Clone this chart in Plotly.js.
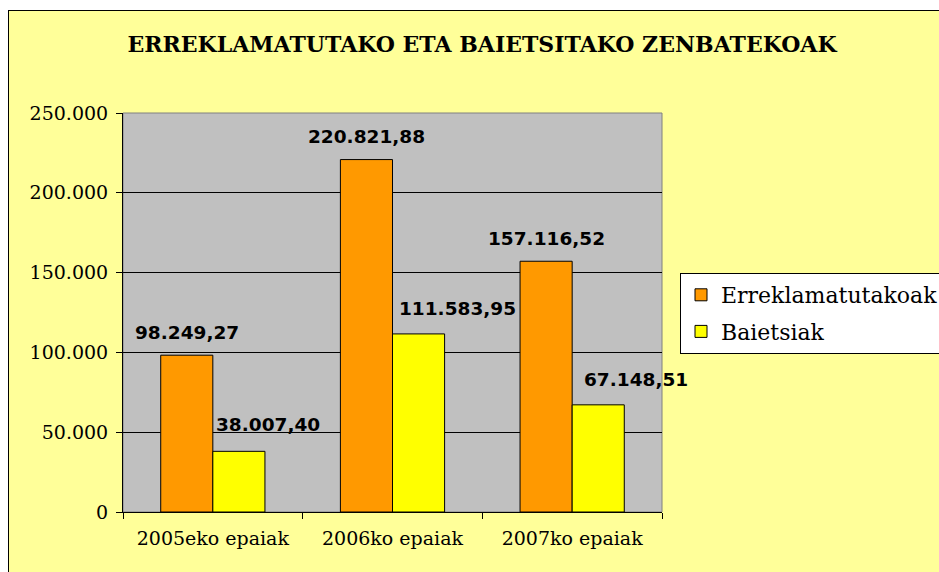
<!DOCTYPE html>
<html>
<head>
<meta charset="utf-8">
<script src="https://cdn.plot.ly/plotly-3.0.1.min.js"></script>
<style>
  html, body { margin: 0; padding: 0; background: #ffffff; overflow: hidden; width: 939px; height: 572px; }
  #chart { position: absolute; left: 8px; top: 10px; width: 940px; height: 570px; border-left: 1px solid #000; border-top: 1px solid #000; background: #FFFF99; }
</style>
</head>
<body>
<div id="chart"></div>
<script>
// ---- data ----
var categories = ['2005eko epaiak', '2006ko epaiak', '2007ko epaiak'];
var erreklamatutakoak = [98249.27, 220821.88, 157116.52];
var baietsiak = [38007.40, 111583.95, 67148.51];
var seriesNames = ['Erreklamatutakoak', 'Baietsiak'];
var yTickValues = [0, 50000, 100000, 150000, 200000, 250000];
var chartTitle = 'ERREKLAMATUTAKO ETA BAIETSITAKO ZENBATEKOAK';

// ---- label placement (style, pixels) ----
var shiftOrange = [-26, -26, -26];
var shiftYellow = [55, 65, 64];
var liftOrange = [23, 23.5, 23];
var liftYellow = [27, 25, 25.5];

function fmt(v) {
  var parts = v.toFixed(2).split('.');
  var intPart = parts[0].replace(/\B(?=(\d{3})+(?!\d))/g, '.');
  return intPart + ',' + parts[1];
}

var serif = 'DejaVu Serif, serif';
var labelFont = {family: 'DejaVu Sans, sans-serif', size: 18.5, weight: 'bold', color: '#000'};
var traces = [
  {type: 'bar', name: seriesNames[0], x: categories, y: erreklamatutakoak, legendgroup: 'a',
   marker: {color: '#FF9900', line: {color: '#000000', width: 1}}, hoverinfo: 'none'},
  {type: 'bar', name: seriesNames[1], x: categories, y: baietsiak, legendgroup: 'b',
   marker: {color: '#FFFF00', line: {color: '#000000', width: 1}}, hoverinfo: 'none'}
];

var annotations = [];
categories.forEach(function (c, i) {
  annotations.push({x: c, y: erreklamatutakoak[i], xref: 'x', yref: 'y', text: fmt(erreklamatutakoak[i]),
    showarrow: false, xanchor: 'center', yanchor: 'middle', xshift: shiftOrange[i], yshift: liftOrange[i],
    font: labelFont});
  annotations.push({x: c, y: baietsiak[i], xref: 'x', yref: 'y', text: fmt(baietsiak[i]),
    showarrow: false, xanchor: 'center', yanchor: 'middle', xshift: shiftYellow[i], yshift: liftYellow[i],
    font: labelFont});
});

var layout = {
  width: 940, height: 570,
  margin: {l: 114, r: 287, t: 102, b: 69, autoexpand: false},
  paper_bgcolor: '#FFFF99',
  plot_bgcolor: '#C0C0C0',
  separators: ',.',
  title: {text: chartTitle, xref: 'container', x: 473 / 940, xanchor: 'center',
          yref: 'container', y: 1 - 33 / 570, yanchor: 'middle',
          font: {family: serif, size: 22, weight: 'bold', color: '#000'}},
  barmode: 'group', bargap: 0.42, bargroupgap: 0,
  showlegend: true,
  legend: {x: 1.0334, xanchor: 'left', y: 0.599, yanchor: 'top', bgcolor: '#FFFFFF',
           bordercolor: '#000000', borderwidth: 1, font: {family: serif, size: 22, color: '#000'},
           traceorder: 'grouped', tracegroupgap: 5},
  xaxis: {type: 'category', range: [-0.5, 2.5], showline: true, linecolor: '#000', linewidth: 1, ticks: 'outside',
          tickson: 'boundaries', ticklen: 6, tickcolor: '#000', showgrid: false,
          tickfont: {family: serif, size: 19, color: '#000'}, ticklabelstandoff: 9, fixedrange: true},
  yaxis: {range: [0, 250000], tickvals: yTickValues, tickformat: ',d', showline: true, linecolor: '#000',
          linewidth: 1, ticks: 'outside', ticklen: 6, tickcolor: '#000', showgrid: true,
          gridcolor: '#000', gridwidth: 1, zeroline: false,
          tickfont: {family: serif, size: 19, color: '#000'}, ticklabelstandoff: 4, fixedrange: true},
  shapes: [{type: 'rect', xref: 'paper', yref: 'paper', x0: 0, x1: 1, y0: 0, y1: 1,
            line: {color: '#808080', width: 1}, layer: 'below'}],
  annotations: annotations
};

Plotly.newPlot('chart', traces, layout, {displayModeBar: false, staticPlot: true});
</script>
</body>
</html>
